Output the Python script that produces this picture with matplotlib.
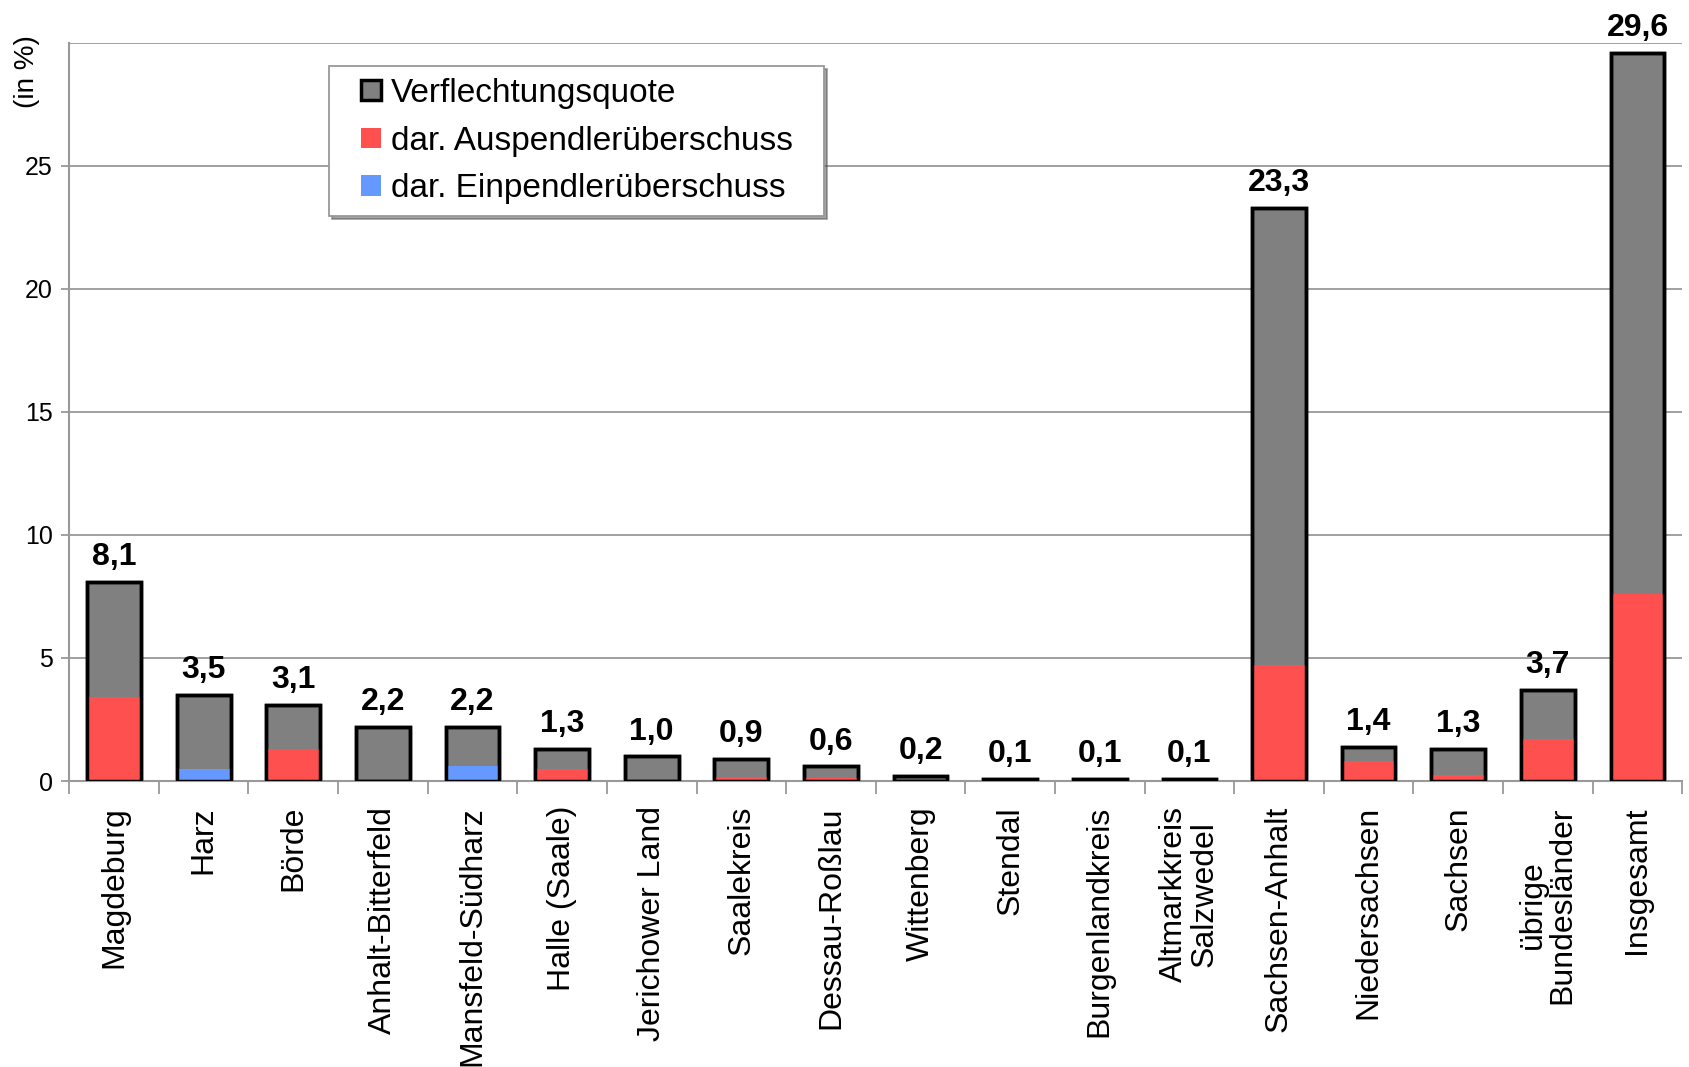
import matplotlib.pyplot as plt
import numpy as np
from matplotlib.patches import Rectangle
from matplotlib.container import BarContainer
from matplotlib.legend_handler import HandlerPatch, update_from_first_child

plt.rcParams['font.family'] = ['Liberation Sans', 'DejaVu Sans']

regions = ['Magdeburg', 'Harz', 'Börde', 'Anhalt-Bitterfeld', 'Mansfeld-Südharz',
           'Halle (Saale)', 'Jerichower Land', 'Saalekreis', 'Dessau-Roßlau',
           'Wittenberg', 'Stendal', 'Burgenlandkreis', 'Altmarkkreis\nSalzwedel',
           'Sachsen-Anhalt', 'Niedersachsen', 'Sachsen', 'übrige\nBundesländer',
           'Insgesamt']
quote = [8.1, 3.5, 3.1, 2.2, 2.2, 1.3, 1.0, 0.9, 0.6, 0.2, 0.1, 0.1, 0.1,
         23.3, 1.4, 1.3, 3.7, 29.6]
aus = [3.4, 0, 1.3, 0.05, 0, 0.5, 0, 0.15, 0.12, 0, 0, 0, 0,
       4.7, 0.8, 0.25, 1.7, 7.6]
ein = [0, 0.5, 0, 0, 0.6, 0, 0, 0, 0, 0, 0, 0, 0,
       0, 0, 0, 0, 0]

gray = '#808080'
red = '#FF5050'
blue = '#6699FF'


def square(legend, orig_handle, xdescent, ydescent, width, height, fontsize):
    # small square at the right end of the handle box
    return Rectangle((-xdescent + width - height, -ydescent), height, height)


fig = plt.figure(figsize=(16.89, 10.67), dpi=100)
ax = fig.add_axes([0.041, 0.268, 0.955, 0.692])

x = np.arange(len(regions))
w = 0.6
ax.bar(x, quote, w, color=gray, zorder=2, label='Verflechtungsquote',
       edgecolor='black', linewidth=2.5)
ax.bar(x, aus, w, color=red, zorder=3, label='dar. Auspendlerüberschuss')
ax.bar(x, ein, w, color=blue, zorder=3, label='dar. Einpendlerüberschuss')
ax.bar(x, quote, w, fill=False, edgecolor='black', linewidth=2.5, zorder=4)

for xi, v in zip(x, quote):
    ax.annotate(f'{v:.1f}'.replace('.', ','), (xi, v), xytext=(0, 7),
                textcoords='offset points', ha='center', va='bottom',
                fontsize=23, fontweight='bold')

ax.set_xlim(-0.5, len(regions) - 0.5)
ax.set_ylim(0, 30)
ax.set_yticks([0, 5, 10, 15, 20, 25])
ax.yaxis.grid(True, color='#999999', linewidth=1.3, zorder=0)
ax.axhline(30, color='#999999', linewidth=1.3, zorder=0)
for s in ['left', 'bottom']:
    ax.spines[s].set_color('#999999')
    ax.spines[s].set_linewidth(1.5)
for s in ['top', 'right']:
    ax.spines[s].set_visible(False)

ax.set_xticks(x)
ax.set_xticklabels(regions, rotation=90, fontsize=23, va='top', ha='center',
                   linespacing=1.0)
ax.set_xticks(np.arange(len(regions) + 1) - 0.5, minor=True)
ax.tick_params(axis='x', which='major', length=0, pad=18)
ax.tick_params(axis='x', which='minor', length=9, color='#999999', width=1.3)
ax.tick_params(axis='y', length=6, color='#999999', width=1.3, labelsize=18, pad=6)

fig.text(0.016, 0.933, '(in %)', rotation=90, fontsize=20, ha='center', va='center')

handler = HandlerPatch(patch_func=square, update_func=update_from_first_child)
leg = ax.legend(loc='upper left', bbox_to_anchor=(0.161, 0.968, 0.307, 0.0),
                mode='expand', fontsize=24,
                frameon=True, fancybox=False, shadow=True, edgecolor='#999999',
                handler_map={BarContainer: handler},
                handlelength=1.2, handleheight=0.55, handletextpad=0.3,
                borderpad=0.35, labelspacing=0.5, borderaxespad=0)
leg.get_frame().set_linewidth(1.3)

fig.savefig('out.png', dpi=100)
